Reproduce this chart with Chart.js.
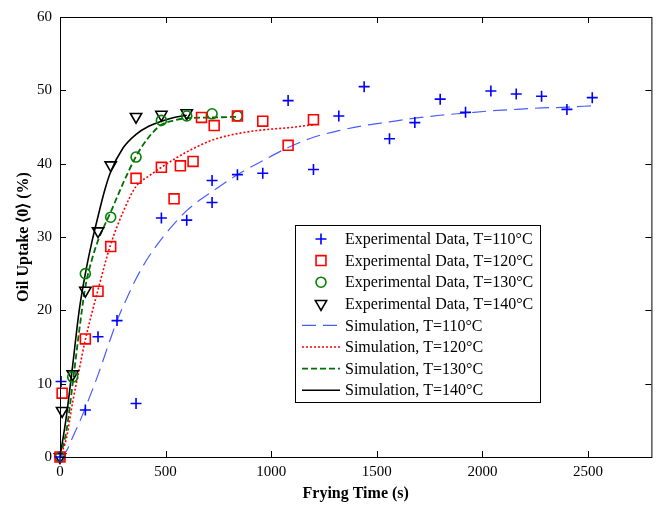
<!DOCTYPE html>
<html>
<head>
<meta charset="utf-8">
<script src="https://cdn.jsdelivr.net/npm/chart.js@4.4.1/dist/chart.umd.min.js"></script>
<style>
  html, body { margin: 0; padding: 0; background: #fff; }
  #wrap { width: 660px; height: 509px; }
</style>
</head>
<body>
<div id="wrap"><canvas id="oil-chart" width="660" height="509"></canvas></div>
<script>
// experimental data (time in s, uptake in %)
var exp110T = [0, 5, 120, 180, 270, 360, 480, 600, 720, 720, 840, 960, 1080, 1200, 1320, 1440, 1560, 1680, 1800, 1920, 2040, 2160, 2280, 2400, 2520];
var exp110  = [0, 10.3, 6.4, 16.4, 18.6, 7.3, 32.6, 32.3, 37.7, 34.7, 38.5, 38.7, 48.6, 39.2, 46.5, 50.5, 43.4, 45.6, 48.8, 47.0, 49.9, 49.5, 49.2, 47.4, 49.0];

var exp120T = [0, 10, 120, 180, 240, 360, 480, 540, 570, 630, 670, 730, 840, 960, 1080, 1200];
var exp120  = [0, 8.7, 16.1, 22.6, 28.7, 38.0, 39.5, 35.2, 39.7, 40.3, 46.3, 45.2, 46.5, 45.8, 42.5, 46.0];

var exp130T = [0, 60, 120, 240, 360, 480, 600, 720, 840];
var exp130  = [0, 10.9, 25.0, 32.7, 40.9, 45.9, 46.5, 46.8, 46.5];

var exp140T = [0, 10, 60, 120, 180, 240, 360, 480, 600];
var exp140  = [0, 6.3, 11.3, 22.7, 30.8, 39.8, 46.4, 46.7, 46.9];

// simulation curves
var sim110T = [0, 30, 60, 90, 120, 180, 240, 270, 300, 360, 420, 480, 540, 600, 660, 720, 840, 960, 1080, 1200, 1320, 1440, 1560, 1680, 1800, 1920, 2040, 2160, 2280, 2400, 2520];
var sim110  = [0, 0.8, 2.7, 4.6, 6.7, 11.2, 16.2, 18.6, 20.6, 24.3, 27.3, 29.7, 31.8, 33.6, 35.0, 36.2, 38.5, 40.4, 42.2, 43.6, 44.5, 45.2, 45.7, 46.2, 46.6, 46.9, 47.2, 47.4, 47.6, 47.7, 47.9];

var sim120T = [0, 30, 60, 90, 120, 180, 240, 300, 360, 420, 480, 540, 600, 720, 840, 960, 1080, 1200];
var sim120  = [0, 2.5, 7.5, 11.8, 16.0, 22.8, 29.0, 33.5, 36.9, 38.3, 39.5, 40.6, 41.6, 43.2, 44.1, 44.6, 44.9, 45.3];

var sim130T = [0, 30, 60, 90, 120, 150, 180, 240, 300, 360, 420, 480, 540, 600, 720, 840];
var sim130  = [0, 3.5, 10.0, 17.0, 23.2, 26.8, 29.5, 33.4, 37.4, 41.0, 43.6, 45.3, 45.9, 46.2, 46.3, 46.4];

var sim140T = [0, 30, 60, 90, 120, 150, 180, 210, 240, 300, 360, 420, 480, 540, 600];
var sim140  = [0, 5.5, 12.5, 19.8, 25.0, 29.2, 32.8, 36.2, 38.9, 42.2, 44.0, 45.1, 45.8, 46.3, 46.6];

var xTicks = [0, 500, 1000, 1500, 2000, 2500];
var yTicks = [0, 10, 20, 30, 40, 50, 60];

function pts(t, v)
{
    var out = [];
    for (let i in t) out.push({x: t[i], y: v[i]});
    return out;
}

var serif = "'Liberation Serif', 'Times New Roman', serif";
var clear = 'rgba(0,0,0,0)';

// legend + frame + inward ticks drawn by hand (matlab look)
var framePlugin = {
    id: 'frame',
    afterDraw: function(chart)
    {
        var ctx = chart.ctx;
        var a = chart.chartArea;
        var xs = chart.scales.x, ys = chart.scales.y;
        ctx.save();
        ctx.strokeStyle = '#000';
        ctx.lineWidth = 1;
        ctx.strokeRect(a.left + 0.5, a.top + 0.5, a.right - a.left, a.bottom - a.top);
        ctx.beginPath();
        xTicks.forEach(function(v)
        {
            var px = Math.round(xs.getPixelForValue(v)) + 0.5;
            ctx.moveTo(px, a.bottom); ctx.lineTo(px, a.bottom - 6);
            ctx.moveTo(px, a.top); ctx.lineTo(px, a.top + 6);
        });
        yTicks.forEach(function(v)
        {
            var py = Math.round(ys.getPixelForValue(v)) + 0.5;
            ctx.moveTo(a.left, py); ctx.lineTo(a.left + 6, py);
            ctx.moveTo(a.right, py); ctx.lineTo(a.right - 6, py);
        });
        ctx.stroke();

        // legend box
        var bx = 295, by = 225, bw = 245, bh = 177;
        ctx.fillStyle = '#fff';
        ctx.fillRect(bx, by, bw, bh);
        ctx.strokeRect(bx + 0.5, by + 0.5, bw, bh);
        ctx.font = '16px ' + serif;
        ctx.textBaseline = 'middle';
        chart.data.datasets.forEach(function(ds, i)
        {
            var y = by + 14 + i * 21.6;
            ctx.save();
            if (ds.showLine)
            {
                ctx.strokeStyle = ds.borderColor;
                ctx.lineWidth = ds.borderWidth;
                ctx.setLineDash(ds.borderDash || []);
                ctx.beginPath();
                ctx.moveTo(302, y); ctx.lineTo(340, y);
                ctx.stroke();
            }
            else
            {
                ctx.fillStyle = clear;
                ctx.strokeStyle = ds.pointBorderColor;
                ctx.lineWidth = ds.pointBorderWidth;
                Chart.helpers.drawPoint(ctx, {
                    pointStyle: ds.pointStyle,
                    rotation: ds.pointRotation || 0,
                    radius: ds.pointRadius,
                    borderWidth: ds.pointBorderWidth
                }, 321, y);
            }
            ctx.restore();
            ctx.fillStyle = '#000';
            ctx.fillText(ds.label, 345, y + 1);
        });
        ctx.restore();
    }
};

function expSet(label, t, v, color, style, radius, rot)
{
    return {
        label: label,
        data: pts(t, v),
        showLine: false,
        pointStyle: style,
        pointRotation: rot || 0,
        pointRadius: radius,
        pointBorderWidth: 1.6,
        pointBorderColor: color,
        pointBackgroundColor: clear,
        backgroundColor: clear,
        borderColor: color,
        clip: false
    };
}

function simSet(label, t, v, color, dash, width)
{
    return {
        label: label,
        data: pts(t, v),
        showLine: true,
        pointRadius: 0,
        borderColor: color,
        backgroundColor: clear,
        borderWidth: width,
        borderDash: dash,
        cubicInterpolationMode: 'monotone',
        fill: false
    };
}

function plain(v) { return String(v); }

var ctx = document.getElementById('oil-chart').getContext('2d');
var oilChart = new Chart(ctx,
{
    type: 'scatter',
    data: {
        datasets: [
            expSet('Experimental Data, T=110°C', exp110T, exp110, '#0000ff', 'cross', 5.5),
            expSet('Experimental Data, T=120°C', exp120T, exp120, '#ff0000', 'rect', 7),
            expSet('Experimental Data, T=130°C', exp130T, exp130, '#008000', 'circle', 5),
            expSet('Experimental Data, T=140°C', exp140T, exp140, '#000000', 'triangle', 6.5, 180),
            simSet('Simulation, T=110°C', sim110T, sim110, '#4a5cff', [14, 7], 1.2),
            simSet('Simulation, T=120°C', sim120T, sim120, '#ff0000', [2, 2], 1.6),
            simSet('Simulation, T=130°C', sim130T, sim130, '#007000', [6, 3], 1.8),
            simSet('Simulation, T=140°C', sim140T, sim140, '#000000', [], 1.6)
        ]
    },
    plugins: [framePlugin],
    options: {
        responsive: false,
        animation: false,
        devicePixelRatio: 1,
        layout: { padding: { top: 15, right: 8, left: 0, bottom: 0 } },
        plugins: {
            legend: { display: false },
            tooltip: { enabled: false }
        },
        scales: {
            x: {
                type: 'linear',
                min: 0,
                max: 2800,
                afterFit: function(s) { s.height = 52; },
                afterBuildTicks: function(s) { s.ticks = xTicks.map(function(v) { return {value: v}; }); },
                grid: { display: false, drawTicks: false },
                border: { display: false },
                ticks: { color: '#000', padding: 6, font: { family: serif, size: 15 }, maxRotation: 0, callback: plain },
                title: {
                    display: true,
                    text: 'Frying Time (s)',
                    color: '#000',
                    font: { family: serif, size: 16, weight: 'bold' },
                    padding: { top: 0, bottom: 6 }
                }
            },
            y: {
                type: 'linear',
                min: 0,
                max: 60,
                afterFit: function(s) { s.width = 60; },
                afterBuildTicks: function(s) { s.ticks = yTicks.map(function(v) { return {value: v}; }); },
                grid: { display: false, drawTicks: false },
                border: { display: false },
                ticks: { color: '#000', padding: 8, font: { family: serif, size: 15 }, callback: plain },
                title: {
                    display: true,
                    text: 'Oil Uptake ⟨0⟩ (%)',
                    color: '#000',
                    font: { family: serif, size: 16, weight: 'bold' },
                    padding: { top: 14, bottom: 14 }
                }
            }
        }
    }
}); // CHART
</script>
</body>
</html>
